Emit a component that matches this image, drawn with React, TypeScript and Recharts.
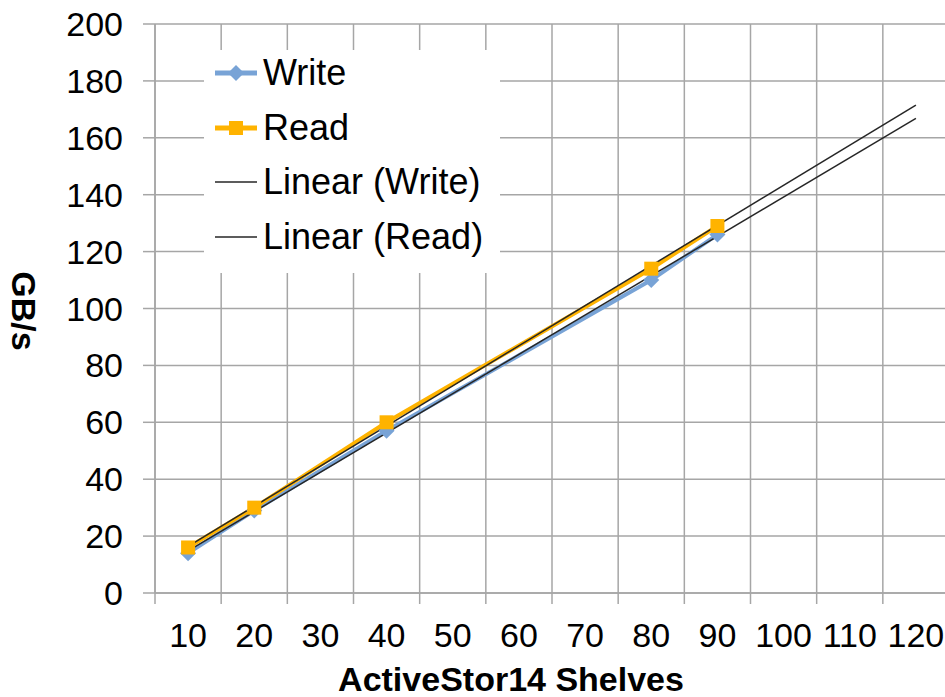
import React from "react";
import { LineChart, Line, XAxis, YAxis, CartesianGrid } from "recharts";

// shelves on the x axis
const xValues = [10, 20, 40, 80, 90, 120];
// GB/s
const writeValues = [14, 29, 57, 110, 126, null];
const readValues = [16, 30, 60, 114, 129, null];
// trendline end points (Excel linear fit, forecast to 120)
const writeTrend = [14.8, null, null, null, null, 166.8];
const readTrend = [16.4, null, null, null, null, 171.5];

const yTicks = [0, 20, 40, 60, 80, 100, 120, 140, 160, 180, 200];
const xTickLabels = [10, 20, 30, 40, 50, 60, 70, 80, 90, 100, 110, 120];
const xGridValues = [5, 15, 25, 35, 45, 55, 65, 75, 85, 95, 105, 115, 125];

const FONT = '"Liberation Sans", Arial, sans-serif';
const GRID = "#a6a6a6";
const WRITE_COLOR = "#78a3d6";
const READ_COLOR = "#ffb300";
const TREND_COLOR = "#262626";

const legendItems = [
  { label: "Write", color: WRITE_COLOR, marker: "diamond" },
  { label: "Read", color: READ_COLOR, marker: "square" },
  { label: "Linear (Write)", color: TREND_COLOR, marker: "none" },
  { label: "Linear (Read)", color: TREND_COLOR, marker: "none" },
];

const DiamondDot = (props: any) => {
  const { cx, cy } = props;
  if (cx == null || cy == null || props.value == null) return null;
  const r = 8;
  return (
    <polygon
      points={`${cx},${cy - r} ${cx + r},${cy} ${cx},${cy + r} ${cx - r},${cy}`}
      fill={WRITE_COLOR}
    />
  );
};

const SquareDot = (props: any) => {
  const { cx, cy } = props;
  if (cx == null || cy == null || props.value == null) return null;
  return <rect x={cx - 7} y={cy - 7} width={14} height={14} fill={READ_COLOR} />;
};

const XTick = (props: any) => {
  const { x, y, payload } = props;
  if (payload.value % 10 === 0) {
    return (
      <text x={x} y={y + 54} textAnchor="middle" fontSize={34} fill="#000" fontFamily={FONT}>
        {payload.value}
      </text>
    );
  }
  return <line x1={x} x2={x} y1={y} y2={y + 11} stroke={GRID} strokeWidth={1.5} />;
};

export default function App() {
  const data = xValues.map((x, i) => ({
    x,
    write: writeValues[i],
    read: readValues[i],
    writeTrend: writeTrend[i],
    readTrend: readTrend[i],
  }));
  const xTicks = [...xTickLabels, ...xGridValues].sort((a, b) => a - b);

  return (
    <div
      style={{
        position: "absolute",
        left: 0,
        top: 0,
        width: 945,
        height: 697,
        overflow: "hidden",
        background: "#fff",
        fontFamily: FONT,
      }}
    >
      <LineChart width={960} height={697} data={data} margin={{ top: 24, right: 11, bottom: 0, left: 0 }}>
        <CartesianGrid
          stroke={GRID}
          strokeWidth={1.5}
          verticalCoordinatesGenerator={({ offset }: any) =>
            xGridValues.map((v) => offset.left + ((v - 5) / 120) * offset.width)
          }
        />
        <XAxis
          dataKey="x"
          type="number"
          domain={[5, 125]}
          ticks={xTicks}
          interval={0}
          height={104}
          tickLine={false}
          tickSize={0}
          tickMargin={0}
          tick={<XTick />}
          stroke={GRID}
          strokeWidth={1.5}
          allowDataOverflow
        />
        <YAxis
          type="number"
          domain={[0, 200]}
          ticks={yTicks}
          interval={0}
          width={155}
          tickSize={12}
          tickMargin={20}
          tick={{ fill: "#000", fontSize: 34, fontFamily: FONT }}
          stroke={GRID}
          strokeWidth={1.5}
        />
        <Line
          dataKey="write"
          stroke={WRITE_COLOR}
          strokeWidth={4}
          dot={<DiamondDot />}
          activeDot={false}
          isAnimationActive={false}
        />
        <Line
          dataKey="read"
          stroke={READ_COLOR}
          strokeWidth={4}
          dot={<SquareDot />}
          activeDot={false}
          isAnimationActive={false}
        />
        <Line
          dataKey="writeTrend"
          stroke={TREND_COLOR}
          strokeWidth={1.5}
          dot={false}
          activeDot={false}
          connectNulls
          isAnimationActive={false}
        />
        <Line
          dataKey="readTrend"
          stroke={TREND_COLOR}
          strokeWidth={1.5}
          dot={false}
          activeDot={false}
          connectNulls
          isAnimationActive={false}
        />
        <text x={511} y={691} textAnchor="middle" fontSize={34} fontWeight="bold" fontFamily={FONT} fill="#000">
          ActiveStor14 Shelves
        </text>
        <text
          x={24}
          y={311}
          transform="rotate(90 24 311)"
          textAnchor="middle"
          dominantBaseline="central"
          fontSize={34}
          fontWeight="bold"
          fontFamily={FONT}
          fill="#000"
        >
          GB/s
        </text>
      </LineChart>

      {/* legend box sits over the grid, upper left */}
      <div
        style={{
          position: "absolute",
          left: 204,
          top: 50,
          width: 296,
          height: 223,
          background: "#fff",
        }}
      >
        {legendItems.map((item, i) => (
          <div
            key={item.label}
            style={{
              position: "absolute",
              left: 11,
              top: -5 + i * 54.7,
              height: 56,
              display: "flex",
              alignItems: "center",
              whiteSpace: "nowrap",
              fontSize: 36,
              color: "#000",
            }}
          >
            <svg width={48} height={20} style={{ display: "block" }}>
              <line
                x1={0}
                x2={42}
                y1={10}
                y2={10}
                stroke={item.color}
                strokeWidth={item.marker === "none" ? 1.5 : 5}
              />
              {item.marker === "diamond" && (
                <polygon points="21,2 29,10 21,18 13,10" fill={item.color} />
              )}
              {item.marker === "square" && <rect x={14} y={3} width={14} height={14} fill={item.color} />}
            </svg>
            <span>{item.label}</span>
          </div>
        ))}
      </div>
    </div>
  );
}
